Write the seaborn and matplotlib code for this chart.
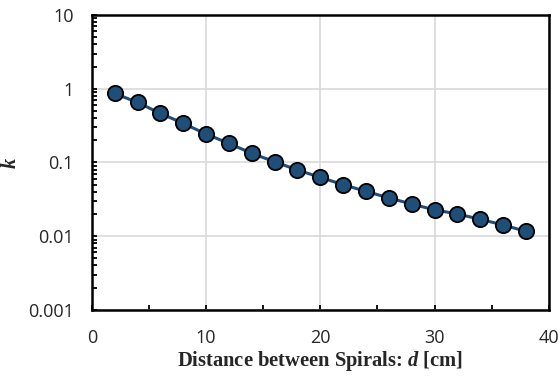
import numpy as np
import pandas as pd
import matplotlib
matplotlib.use("Agg")
import matplotlib.pyplot as plt
import seaborn as sns
from matplotlib.ticker import FixedLocator, LogLocator, MultipleLocator, NullFormatter

# 데이터
d_cm = [2, 4, 6, 8, 10, 12, 14, 16, 18, 20, 22, 24, 26, 28, 30, 32, 34, 36, 38]
k_vals = [0.863, 0.652, 0.463, 0.339, 0.243, 0.181, 0.133, 0.102, 0.079, 0.0627,
          0.0499, 0.0405, 0.033, 0.0273, 0.0227, 0.020, 0.0169, 0.0142, 0.0116]
y_ticks = [0.001, 0.01, 0.1, 1, 10]
y_labels = ["0.001", "0.01", "0.1", "1", "10"]

df = pd.DataFrame({"d": d_cm, "k": k_vals})

sns.set_style("white")
plt.rcParams["mathtext.fontset"] = "custom"
plt.rcParams["mathtext.bfit"] = "Liberation Serif:bold:italic"
plt.rcParams["mathtext.rm"] = "Liberation Serif"

fig = plt.figure(figsize=(5.6, 3.76), dpi=100)
ax = fig.add_axes([0.164, 0.176, 0.816, 0.784])

sns.lineplot(data=df, x="d", y="k", ax=ax, color="#1f4e79", linewidth=2.2,
             marker="o", markersize=11, markerfacecolor="#1f4e79",
             markeredgecolor="black", markeredgewidth=1.3, zorder=3)

ax.set_yscale("log")
ax.set_xlim(0, 40)
ax.set_ylim(0.001, 10)

# 눈금 설정
ax.xaxis.set_major_locator(MultipleLocator(10))
ax.xaxis.set_minor_locator(MultipleLocator(5))
ax.yaxis.set_major_locator(FixedLocator(y_ticks))
ax.set_yticklabels(y_labels)
ax.yaxis.set_minor_locator(LogLocator(base=10, subs=np.arange(2, 10)))
ax.yaxis.set_minor_formatter(NullFormatter())

ax.grid(True, which="major", color="#d9d9d9", linewidth=1.2)
ax.set_axisbelow(True)

ax.tick_params(axis="both", which="both", direction="in", color="black",
               width=1.3, length=3.5, labelsize=13, bottom=True, left=True)
ax.tick_params(axis="x", which="both", top=False, pad=14)
ax.tick_params(axis="y", which="both", right=False, pad=13)
for lab in ax.get_xticklabels() + ax.get_yticklabels():
    lab.set_fontfamily("Open Sans")

for sp in ax.spines.values():
    sp.set_color("black")
    sp.set_linewidth(1.8)

ax.set_xlabel("Distance between Spirals: $\\mathbfit{d}$ [cm]", fontfamily="Liberation Serif",
              fontweight="bold", fontsize=14.8, labelpad=1)
ax.set_ylabel("k", fontfamily="Liberation Serif", fontweight="bold", fontstyle="italic",
              fontsize=14.8)
ax.yaxis.set_label_coords(-0.155, 0.5)

plt.savefig("out.png", dpi=100)
